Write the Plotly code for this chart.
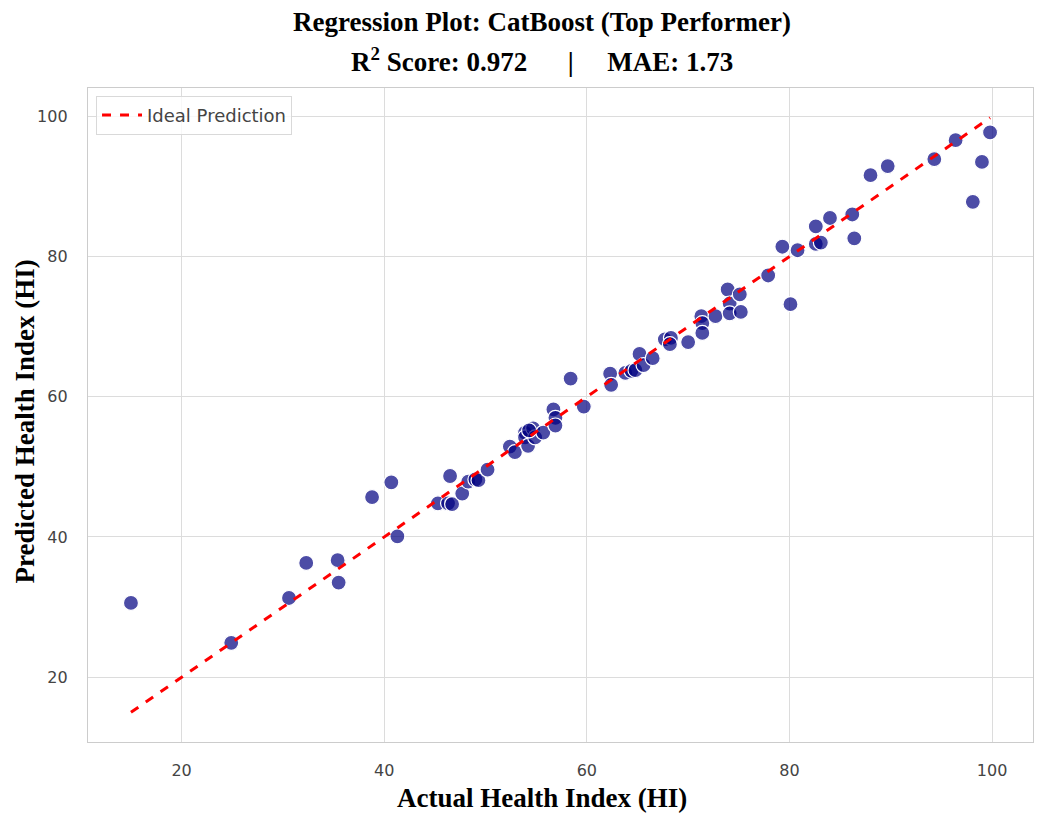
import plotly.graph_objects as go

# values
actual = [15.0, 24.9, 30.6, 32.3, 35.4, 35.5, 38.8, 40.7, 41.3, 45.3,
          46.5, 46.3, 46.7, 47.7, 48.3, 49.0, 49.3, 50.2, 52.4, 52.9,
          53.9, 53.9, 54.7, 54.2, 54.9, 55.7, 54.3, 56.7, 56.9, 56.9,
          58.4, 59.7, 62.3, 62.4, 63.8, 64.4, 64.8, 65.2, 65.6, 66.5,
          67.7, 68.3, 68.2, 70.0, 71.3, 71.4, 71.4, 72.7, 73.9, 74.1,
          75.1, 74.1, 75.2, 77.9, 80.1, 79.3, 80.8, 82.6, 82.6, 83.1,
          84.0, 86.2, 86.4, 88.0, 89.7, 94.3, 96.4, 99.8, 99.0, 98.1]
predicted = [30.6, 24.9, 31.3, 36.3, 36.7, 33.5, 45.7, 47.8, 40.1, 44.8,
             48.7, 44.8, 44.7, 46.2, 47.9, 48.2, 48.1, 49.6, 52.9, 52.1,
             54.9, 54.2, 55.5, 53.0, 54.2, 54.9, 55.2, 58.2, 57.0, 55.9,
             62.6, 58.6, 63.3, 61.7, 63.4, 63.7, 63.8, 66.1, 64.5, 65.5,
             68.2, 68.4, 67.5, 67.8, 71.5, 70.5, 69.1, 71.5, 75.3, 73.3,
             74.6, 71.9, 72.1, 77.3, 73.2, 81.4, 80.9, 84.3, 81.8, 82.0,
             85.5, 86.0, 82.6, 91.6, 92.9, 93.9, 96.6, 97.7, 93.5, 87.8]

r2 = 0.972
mae = 1.73
ticks = [20, 40, 60, 80, 100]

lo = min(actual + predicted)
hi = max(actual + predicted)
pad = (hi - lo) * 0.05

serif = "Liberation Serif, Times New Roman, serif"
sans = "DejaVu Sans, Arial, sans-serif"
plot_w, plot_h = 945, 654
head = dict(family=serif, size=27, color="black")

fig = go.Figure()

fig.add_trace(go.Scatter(
    x=actual, y=predicted, mode="markers", showlegend=False,
    marker=dict(size=15, color="rgba(0,0,128,0.7)",
                line=dict(color="white", width=1.2)),
))

fig.add_trace(go.Scatter(
    x=[lo, hi], y=[lo, hi], mode="lines", name="Ideal Prediction",
    line=dict(color="red", width=3, dash="dash"),
))

nb = "\u00a0"
fig.update_layout(
    width=1048, height=822,
    paper_bgcolor="white", plot_bgcolor="white",
    margin=dict(l=80, r=23, t=80, b=88),
    font=dict(family=sans, size=16, color="#444444"),
    legend=dict(x=0.0085, y=0.988, xanchor="left", yanchor="top",
                bgcolor="rgba(255,255,255,0.8)", bordercolor="#d9d9d9",
                borderwidth=1, itemwidth=40,
                font=dict(size=18, color="#444444")),
    annotations=[
        dict(text="<b>Regression Plot: CatBoost (Top Performer)</b>",
             xref="paper", yref="paper", x=0.48, y=1.0 + 66 / plot_h,
             xanchor="center", yanchor="middle", showarrow=False, font=head),
        dict(text="<b>R<sup>2</sup> Score: %.3f%s|%sMAE: %.2f</b>" % (r2, nb * 6, nb * 5, mae),
             xref="paper", yref="paper", x=0.48, y=1.0 + 28 / plot_h,
             xanchor="center", yanchor="middle", showarrow=False, font=head),
        dict(text="<b>Actual Health Index (HI)</b>",
             xref="paper", yref="paper", x=0.48, y=-56 / plot_h,
             xanchor="center", yanchor="middle", showarrow=False, font=head),
        dict(text="<b>Predicted Health Index (HI)</b>", textangle=-90,
             xref="paper", yref="paper", x=-63 / plot_w, y=0.49,
             xanchor="center", yanchor="middle", showarrow=False, font=head),
    ],
)

axis_style = dict(
    range=[lo - pad, hi + pad], tickvals=ticks, automargin=False,
    showgrid=True, gridcolor="#dcdcdc", gridwidth=1.3,
    zeroline=False, showline=True, linecolor="#cccccc", linewidth=1.3,
    mirror=True, ticks="", tickfont=dict(family=sans, size=16, color="#444444"),
)
fig.update_xaxes(**axis_style, ticklabelstandoff=14)
fig.update_yaxes(**axis_style, ticklabelstandoff=16)

fig.write_html("out.html")
